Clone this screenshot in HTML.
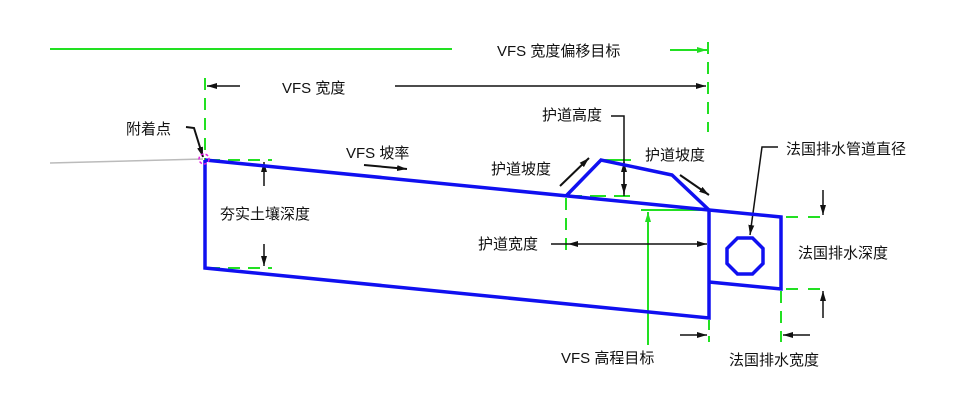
<!DOCTYPE html>
<html><head><meta charset="utf-8"><style>
body{margin:0;background:#fff}
svg{display:block}
text{font-family:"Liberation Sans","Noto Sans CJK SC",sans-serif;font-size:15px;fill:#111}
</style></head><body>
<svg width="971" height="410" viewBox="0 0 971 410" xmlns="http://www.w3.org/2000/svg">
<defs>
<marker id="a" markerWidth="10" markerHeight="8" refX="10" refY="4" orient="auto" markerUnits="userSpaceOnUse"><path d="M0,1 L10,4 L0,7z" fill="#111"/></marker>
<marker id="g" markerWidth="10" markerHeight="8" refX="10" refY="4" orient="auto" markerUnits="userSpaceOnUse"><path d="M0,1 L10,4 L0,7z" fill="#2d2"/></marker>
</defs>
<line x1="50" y1="163" x2="203" y2="159" stroke="#bbb" stroke-width="1.5"/>
<g stroke="#22e022" stroke-width="2" fill="none">
<line x1="50" y1="49" x2="452" y2="49"/>
<line x1="670" y1="50" x2="707" y2="50" marker-end="url(#g)"/>
<line x1="708" y1="42" x2="708" y2="132" stroke-dasharray="12,8"/>
<line x1="205" y1="78" x2="205" y2="160" stroke-dasharray="12,8"/>
<line x1="208" y1="160" x2="272" y2="160" stroke-dasharray="12,8"/>
<line x1="208" y1="268" x2="272" y2="268" stroke-dasharray="12,8"/>
<line x1="601" y1="160" x2="631" y2="160"/>
<line x1="566" y1="196" x2="632" y2="196" stroke-dasharray="16,8"/>
<line x1="566" y1="198" x2="566" y2="252" stroke-dasharray="12,8"/>
<line x1="641" y1="210" x2="708" y2="210"/>
<line x1="648" y1="345" x2="648" y2="212" marker-end="url(#g)"/>
<line x1="709" y1="210" x2="709" y2="250" stroke-dasharray="10,6"/>
<line x1="786" y1="217" x2="830" y2="217" stroke-dasharray="12,10"/>
<line x1="786" y1="289" x2="830" y2="289" stroke-dasharray="12,10"/>
<line x1="709" y1="320" x2="709" y2="342" stroke-dasharray="10,6"/>
<line x1="781" y1="291" x2="781" y2="342" stroke-dasharray="12,8"/>
</g>
<g stroke="#111" stroke-width="1.5" fill="none">
<line x1="240" y1="86" x2="207" y2="86" marker-end="url(#a)"/>
<line x1="395" y1="86" x2="706" y2="86" marker-end="url(#a)"/>
<path d="M186,127 L194,128 L203,157" marker-end="url(#a)" stroke-width="2"/>
<line x1="364" y1="165" x2="407" y2="169" marker-end="url(#a)" stroke-width="2"/>
<line x1="264" y1="186" x2="264" y2="162" marker-end="url(#a)"/>
<line x1="264" y1="244" x2="264" y2="266" marker-end="url(#a)"/>
<line x1="560" y1="186" x2="589" y2="158" marker-end="url(#a)" stroke-width="2"/>
<path d="M611,116 L624,116 L624,196"/>
<line x1="624" y1="180" x2="624" y2="162" marker-end="url(#a)"/>
<line x1="624" y1="180" x2="624" y2="194" marker-end="url(#a)"/>
<line x1="680" y1="175" x2="709" y2="195" marker-end="url(#a)" stroke-width="2"/>
<line x1="551" y1="244" x2="568" y2="244"/>
<line x1="640" y1="244" x2="568" y2="244" marker-end="url(#a)"/>
<line x1="640" y1="244" x2="707" y2="244" marker-end="url(#a)"/>
<path d="M778,147 L762,147 L750,235" marker-end="url(#a)"/>
<line x1="823" y1="190" x2="823" y2="215" marker-end="url(#a)"/>
<line x1="823" y1="318" x2="823" y2="291" marker-end="url(#a)"/>
<line x1="680" y1="335" x2="707" y2="335" marker-end="url(#a)"/>
<line x1="810" y1="335" x2="783" y2="335" marker-end="url(#a)"/>
</g>
<g stroke="#1010f0" stroke-width="3.5" fill="none">
<polyline points="205,160 709,210 781,217 781,289 709,282"/>
<polyline points="205,160 205,268 709,318 709,210"/>
<polyline points="566,196 601,160 672,175 709,210"/>
<polygon points="752.5,238 763,248.5 763,263.5 752.5,274 737.5,274 727,263.5 727,248.5 737.5,238"/>
</g>
<circle cx="204" cy="159" r="5" fill="none" stroke="#e020e0" stroke-width="1.5" stroke-dasharray="3,2"/>
<text x="497" y="56">VFS 宽度偏移目标</text>
<text x="282" y="93">VFS 宽度</text>
<text x="126" y="134">附着点</text>
<text x="346" y="158">VFS 坡率</text>
<text x="220" y="219">夯实土壤深度</text>
<text x="542" y="120">护道高度</text>
<text x="491" y="174">护道坡度</text>
<text x="645" y="160">护道坡度</text>
<text x="786" y="154">法国排水管道直径</text>
<text x="478" y="249">护道宽度</text>
<text x="798" y="258">法国排水深度</text>
<text x="561" y="363">VFS 高程目标</text>
<text x="729" y="365">法国排水宽度</text>
</svg>
</body></html>
